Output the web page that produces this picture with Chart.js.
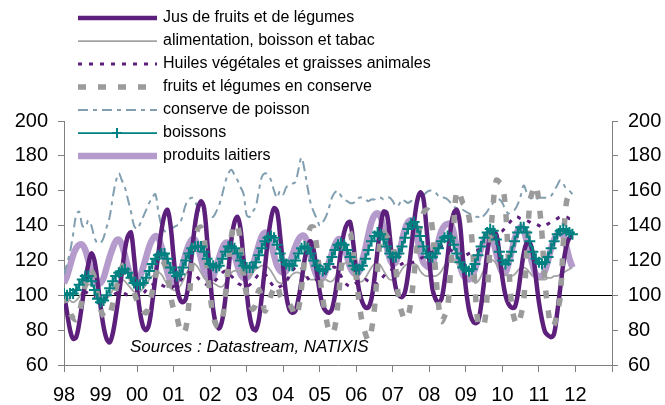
<!DOCTYPE html>
<html>
<head>
<meta charset="utf-8">
<script src="https://cdn.jsdelivr.net/npm/chart.js@4.4.0/dist/chart.umd.min.js"></script>
<style>
	html, body { margin: 0; padding: 0; background: #fff; }
	#wrap { width: 665px; height: 405px; }
</style>
</head>
<body>
<div id="wrap"><canvas id="prixChart" width="665" height="405"></canvas></div>
<script>
// monthly indices, Jan 1998 = 0 ... Dec 2011 = 167
const yearLabels = ['98', '99', '00', '01', '02', '03', '04', '05', '06', '07', '08', '09', '10', '11', '12'];

const jus = [
	101, 90, 80, 75, 76, 84, 96, 108, 118, 124, 120, 108,
	94, 82, 75, 73, 78, 88, 100, 113, 126, 134, 136, 122,
	104, 90, 82, 80, 84, 96, 110, 124, 137, 146, 149, 140,
	122, 106, 98, 96, 98, 108, 124, 140, 150, 154, 150, 132,
	110, 92, 83, 81, 86, 98, 114, 132, 142, 145, 138, 120,
	102, 88, 81, 80, 86, 100, 116, 132, 144, 150, 148, 134,
	116, 100, 92, 90, 91, 98, 108, 120, 128, 131, 126, 114,
	102, 94, 91, 90, 92, 100, 112, 126, 136, 141, 142, 130,
	114, 102, 96, 93, 93, 98, 110, 126, 140, 148, 147, 134,
	116, 104, 100, 99, 102, 112, 126, 142, 154, 159, 156, 140,
	120, 104, 98, 96, 98, 108, 122, 138, 147, 149, 142, 122,
	104, 92, 86, 84, 85, 94, 108, 124, 134, 136, 135, 124,
	110, 100, 95, 93, 93, 100, 112, 124, 130, 130, 124, 110,
	96, 86, 79, 77, 76, 78, 90, 104, 118, 128, 133, 134
];

const alimentation = [
	101, 99, 97, 96, 97, 99, 102, 104, 106, 106, 104, 100,
	97, 97, 98, 100, 103, 106, 108, 109, 108, 106, 104, 102,
	102, 102, 104, 106, 109, 111, 112, 113, 112, 109, 106, 104,
	103, 103, 105, 108, 112, 115, 118, 118, 116, 113, 110, 109,
	108, 107, 106, 105, 105, 107, 110, 113, 114, 114, 113, 111,
	110, 111, 113, 115, 116, 117, 117, 116, 114, 111, 108, 107,
	107, 108, 110, 112, 113, 113, 112, 111, 110, 109, 109, 109,
	109, 109, 109, 108, 108, 110, 113, 116, 118, 119, 117, 113,
	110, 108, 108, 110, 113, 116, 118, 118, 117, 114, 111, 109,
	109, 110, 112, 115, 117, 118, 118, 118, 117, 114, 112, 111,
	111, 111, 111, 112, 114, 117, 119, 121, 121, 119, 116, 113,
	111, 110, 110, 107, 108, 111, 115, 118, 120, 120, 118, 115,
	113, 112, 111, 111, 112, 114, 116, 116, 115, 113, 111, 110,
	109, 109, 109, 110, 110, 111, 111, 112, 113, 114, 115, 116
];

const huiles = [
	100, 100, 101, 102, 103, 103, 103, 102, 101, 100, 99, 99,
	98, 98, 99, 99, 100, 101, 102, 102, 101, 100, 100, 99,
	99, 100, 101, 103, 105, 106, 107, 107, 106, 105, 104, 104,
	105, 106, 108, 110, 112, 113, 113, 112, 110, 108, 107, 106,
	106, 107, 109, 111, 113, 114, 113, 111, 109, 107, 106, 105,
	105, 106, 108, 110, 112, 113, 112, 110, 107, 105, 104, 105,
	106, 108, 111, 114, 116, 117, 116, 113, 110, 108, 108, 109,
	110, 111, 113, 115, 116, 116, 114, 111, 108, 106, 105, 106,
	107, 107, 108, 109, 108, 107, 106, 107, 109, 111, 113, 114,
	115, 116, 117, 118, 119, 119, 119, 119, 120, 121, 122, 123,
	124, 125, 126, 127, 128, 128, 127, 126, 124, 122, 121, 122,
	123, 124, 125, 126, 126, 127, 127, 128, 130, 132, 134, 136,
	137, 139, 141, 143, 145, 145, 144, 144, 143, 142, 141, 141,
	140, 139, 140, 141, 142, 143, 144, 145, 145, 145, 144, 144
];

const fruitsConserve = [
	100, 95, 90, 87, 86, 90, 98, 106, 112, 114, 110, 100,
	92, 88, 87, 89, 95, 103, 110, 116, 118, 116, 110, 102,
	97, 94, 91, 90, 94, 102, 110, 117, 120, 118, 112, 100,
	92, 88, 81, 78, 81, 95, 118, 132, 138, 139, 133, 115,
	100, 88, 83, 82, 86, 100, 118, 134, 141, 140, 130, 112,
	100, 95, 92, 95, 103, 98, 91, 95, 100, 104, 106, 100,
	97, 96, 95, 92, 88, 92, 104, 120, 133, 139, 139, 128,
	112, 98, 88, 80, 78, 82, 96, 115, 128, 134, 136, 125,
	110, 95, 84, 78, 74, 80, 93, 115, 133, 136, 134, 131,
	128, 115, 97, 90, 86, 88, 97, 112, 128, 140, 147, 149,
	148, 138, 115, 95, 85, 88, 93, 115, 140, 160, 158, 153,
	151, 145, 132, 105, 84, 82, 83, 100, 130, 153, 166, 165,
	163, 150, 120, 95, 86, 83, 88, 97, 125, 153, 160, 163,
	153, 135, 107, 92, 82, 83, 90, 99, 130, 153, 158, 160
];

const poisson = [
	112, 118, 125, 135, 146, 148, 140, 139, 143, 140, 133, 130,
	130, 133, 139, 145, 156, 165, 170, 166, 162, 155, 148, 140,
	138, 141, 145, 149, 153, 156, 158, 148, 140, 137, 136, 138,
	139, 140, 141, 146, 152, 155, 156, 154, 150, 147, 146, 145,
	145, 145, 148, 152, 158, 165, 170, 172, 169, 166, 162, 158,
	146, 145, 148, 151, 160, 168, 170, 169, 166, 160, 156, 160,
	158, 162, 163, 164, 165, 172, 179, 172, 162, 153, 148, 144,
	140, 142, 145, 150, 156, 159, 160, 157, 155, 154, 153, 153,
	154, 156, 156, 155, 154, 155, 155, 156, 156, 155, 156, 156,
	154, 151, 152, 155, 154, 153, 154, 155, 156, 155, 157, 159,
	160, 160, 159, 157, 156, 156, 155, 153, 151, 150, 149, 149,
	148, 147, 146, 145, 145, 144, 146, 148, 151, 153, 155, 155,
	153, 149, 147, 148, 149, 152, 157, 163, 159, 156, 155, 155,
	156, 156, 156, 156, 157, 160, 163, 166, 164, 161, 160, 158
];

const boissons = [
	101, 100, 101, 101, 103, 106, 109, 111, 111, 108, 103, 98,
	96, 97, 100, 104, 108, 111, 113, 114, 115, 113, 110, 107,
	106, 106, 107, 110, 114, 118, 121, 123, 124, 124, 121, 116,
	113, 111, 112, 116, 120, 124, 127, 128, 128, 128, 125, 121,
	118, 117, 116, 117, 121, 125, 128, 128, 127, 124, 120, 117,
	116, 116, 116, 119, 123, 127, 131, 133, 134, 133, 129, 124,
	120, 118, 117, 117, 120, 124, 127, 128, 127, 124, 120, 117,
	115, 114, 115, 118, 122, 126, 129, 130, 129, 126, 122, 117,
	115, 115, 117, 121, 126, 131, 134, 136, 135, 132, 128, 124,
	122, 122, 124, 128, 133, 138, 141, 142, 139, 134, 128, 124,
	122, 122, 124, 127, 131, 133, 134, 133, 129, 124, 119, 116,
	115, 114, 115, 118, 123, 128, 133, 136, 138, 137, 132, 125,
	120, 118, 120, 125, 131, 136, 139, 139, 136, 131, 125, 121,
	119, 118, 119, 122, 127, 131, 135, 137, 138, 137, 136, 135
];

const laitiers = [
	107, 111, 117, 123, 127, 129, 129, 126, 120, 114, 109, 107,
	107, 110, 116, 122, 127, 131, 132, 129, 123, 116, 111, 109,
	109, 111, 116, 122, 128, 132, 134, 133, 128, 121, 113, 108,
	107, 108, 112, 118, 124, 129, 132, 132, 128, 121, 114, 110,
	109, 111, 116, 122, 127, 130, 130, 128, 123, 117, 112, 110,
	110, 112, 117, 123, 129, 134, 136, 135, 130, 123, 117, 114,
	113, 114, 118, 123, 128, 132, 134, 134, 130, 123, 116, 111,
	109, 110, 114, 119, 124, 129, 132, 132, 128, 122, 116, 113,
	112, 114, 120, 127, 135, 142, 146, 147, 145, 138, 128, 121,
	118, 119, 124, 131, 138, 142, 143, 140, 133, 125, 119, 117,
	116, 118, 124, 131, 137, 140, 141, 141, 136, 127, 118, 112,
	110, 109, 111, 115, 121, 127, 132, 135, 135, 131, 124, 117,
	113, 113, 118, 125, 132, 137, 139, 137, 131, 124, 117, 112,
	111, 111, 114, 120, 127, 132, 135, 136, 134, 128, 121, 116
];

const FONT = "'Liberation Sans', Arial, sans-serif";
const AXIS_GREY = '#808080';

function toPoints(values) {
	return values.map((v, i) => ({ x: i, y: v }));
}

const datasets = [
	{ label: 'Jus de fruits et de légumes', data: toPoints(jus), borderColor: '#5C1F7B', borderWidth: 4.5, order: 3 },
	{ label: 'alimentation, boisson et tabac', data: toPoints(alimentation), borderColor: '#A3A3A3', borderWidth: 1.75, order: 5 },
	{ label: 'Huiles végétales et graisses animales', data: toPoints(huiles), borderColor: '#5C1F7B', borderWidth: 3, borderDash: [4, 7], order: 4 },
	{ label: 'fruits et légumes en conserve', data: toPoints(fruitsConserve), borderColor: '#9B9B9B', borderWidth: 5.5, borderDash: [8, 12], order: 2 },
	{ label: 'conserve de poisson', data: toPoints(poisson), borderColor: '#819FB0', borderWidth: 2, borderDash: [10, 5, 4, 5], order: 6 },
	{ label: 'boissons', data: toPoints(boissons), borderColor: '#008080', borderWidth: 1.75, order: 1,
		pointStyle: 'cross', pointRadius: 5.5, pointBorderWidth: 2, pointBorderColor: '#008080', pointBackgroundColor: '#008080' },
	{ label: 'produits laitiers', data: toPoints(laitiers), borderColor: '#B59BCB', borderWidth: 6.5, order: 7 }
];

datasets.forEach((ds) => {
	ds.fill = false;
	ds.tension = 0.35;
	ds.borderJoinStyle = 'round';
	if (!ds.pointStyle) {
		ds.pointRadius = 0;
	}
});

// legend + source note, drawn over the plot like the Excel original
const overlayPlugin = {
	id: 'overlay',
	afterDraw(chart) {
		const ctx = chart.ctx;
		ctx.save();
		ctx.textBaseline = 'middle';
		chart.data.datasets.forEach((ds, i) => {
			const y = 18 + i * 23;
			ctx.beginPath();
			ctx.setLineDash(ds.borderDash || []);
			ctx.strokeStyle = ds.borderColor;
			ctx.lineWidth = ds.borderWidth;
			ctx.lineCap = 'butt';
			ctx.moveTo(78, y);
			ctx.lineTo(157, y);
			ctx.stroke();
			if (ds.pointStyle === 'cross') {
				ctx.setLineDash([]);
				ctx.lineWidth = 2;
				ctx.beginPath();
				ctx.moveTo(117, y - 5);
				ctx.lineTo(117, y + 5);
				ctx.moveTo(112, y);
				ctx.lineTo(122, y);
				ctx.stroke();
			}
			ctx.fillStyle = '#000';
			ctx.font = '16px ' + FONT;
			ctx.fillText(ds.label, 163, y);
		});
		ctx.font = 'italic 17px ' + FONT;
		ctx.fillStyle = '#000';
		ctx.fillText('Sources : Datastream, NATIXIS', 130, 347);
		ctx.restore();
	}
};

const yTicks = {
	color: '#000',
	font: { family: FONT, size: 20 },
	padding: 10,
	stepSize: 20
};

new Chart(document.getElementById('prixChart'), {
	type: 'line',
	data: { datasets: datasets },
	options: {
		responsive: false,
		animation: false,
		layout: { padding: { top: 121, left: 0, right: 0, bottom: 0 } },
		plugins: {
			legend: { display: false },
			tooltip: { enabled: false },
			title: { display: false }
		},
		scales: {
			x: {
				type: 'linear',
				min: 0,
				max: 180,
				afterFit: (scale) => { scale.height = 40; },
				border: { display: true, color: AXIS_GREY, width: 1 },
				grid: { drawOnChartArea: false, drawTicks: true, tickLength: 7, tickColor: AXIS_GREY },
				ticks: {
					stepSize: 12,
					autoSkip: false,
					maxRotation: 0,
					color: '#000',
					padding: 11,
					font: { family: FONT, size: 20 },
					callback: (v) => yearLabels[v / 12] ?? ''
				}
			},
			y: {
				position: 'left',
				min: 60,
				max: 200,
				afterFit: (scale) => { scale.width = 64; },
				border: { display: true, color: AXIS_GREY, width: 1 },
				grid: {
					drawOnChartArea: true,
					drawTicks: true,
					tickLength: 6,
					tickColor: AXIS_GREY,
					color: (c) => (c.tick && c.tick.value === 100 ? '#000' : 'rgba(0,0,0,0)')
				},
				ticks: yTicks
			},
			y2: {
				position: 'right',
				min: 60,
				max: 200,
				afterFit: (scale) => { scale.width = 53; },
				border: { display: true, color: AXIS_GREY, width: 1 },
				grid: { drawOnChartArea: false, drawTicks: true, tickLength: 6, tickColor: AXIS_GREY },
				ticks: yTicks
			}
		}
	},
	plugins: [overlayPlugin]
});
</script>
</body>
</html>
